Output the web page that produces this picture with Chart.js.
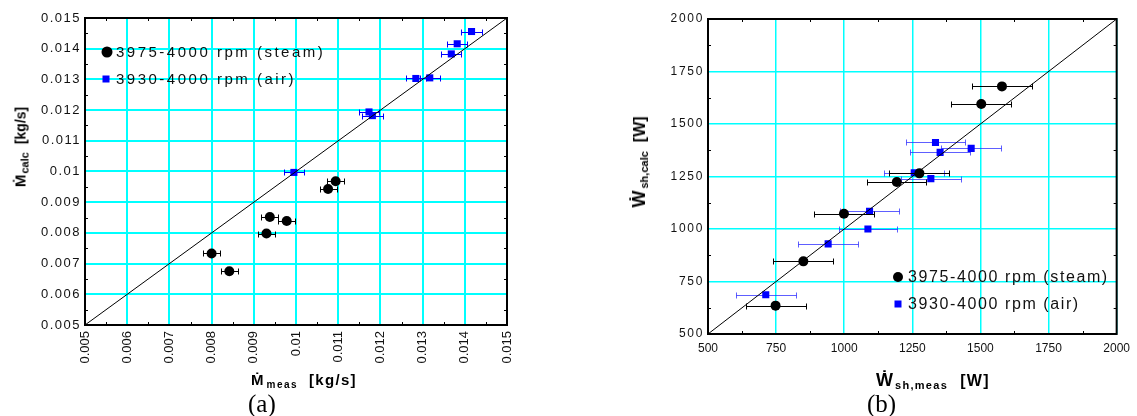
<!DOCTYPE html>
<html><head><meta charset="utf-8">
<script src="https://cdn.jsdelivr.net/npm/chart.js@4.4.1/dist/chart.umd.min.js"></script>
<style>
html,body{margin:0;padding:0;background:#fff;}
#wrap{position:relative;width:1137px;height:416px;overflow:hidden;background:#fff;font-family:"Liberation Sans",Arial,"DejaVu Sans",sans-serif;color:#000;}
canvas{position:absolute;top:0;}
#ca{left:0;}
#cb{left:568px;}
.t{position:absolute;white-space:nowrap;font-weight:bold;line-height:1;}
.sb{position:relative;top:3px;}
.yt{transform:translate(-50%,-50%) rotate(-90deg);}
.lab{position:absolute;font-family:"Liberation Serif","Times New Roman",serif;font-size:25px;line-height:1;}
</style></head><body>
<div id="wrap">
<canvas id="ca" width="560" height="416"></canvas>
<canvas id="cb" width="569" height="416"></canvas>

<div class="t" style="left:251px;top:372px;font-size:15px;">Ṁ<span class="sb" style="font-size:10px;letter-spacing:1.5px;margin-left:3px;">meas</span><span style="margin-left:11px;letter-spacing:1.3px;">[kg/s]</span></div>
<div class="t yt" style="left:20px;top:147px;font-size:15px;">Ṁ<span class="sb" style="font-size:11px;margin-left:1px;">calc</span><span style="font-size:14px;margin-left:8px;">[kg/s]</span></div>

<div class="t" style="left:876px;top:371px;font-size:18px;">Ẇ<span class="sb" style="font-size:11px;letter-spacing:1.3px;margin-left:2px;">sh,meas</span><span style="font-size:16px;letter-spacing:1.4px;margin-left:12px;">[W]</span></div>
<div class="t yt" style="left:639px;top:162px;font-size:18px;">Ẇ<span class="sb" style="font-size:11px;margin-left:2px;">sh,calc</span><span style="font-size:16px;margin-left:9px;">[W]</span></div>

<div class="lab" style="left:248px;top:391px;">(a)</div>
<div class="lab" style="left:867px;top:391px;">(b)</div>
</div>
<script>
// ---------------- data : chart (a) mass flow ----------------
const seriesNames = ['3975-4000 rpm (steam)', '3930-4000 rpm (air)'];

const aSteamX   = [0.00938, 0.00978, 0.00930, 0.00800, 0.00842, 0.01094, 0.01076];
const aSteamY   = [0.00852, 0.00839, 0.00798, 0.00733, 0.00675, 0.00968, 0.00943];
const aSteamErr = [0.0002, 0.0002, 0.0002, 0.0002, 0.0002, 0.0002, 0.0002];

const aAirX   = [0.01416, 0.01382, 0.01368, 0.01284, 0.01317, 0.01173, 0.01181, 0.00995];
const aAirY   = [0.01456, 0.01416, 0.01383, 0.01303, 0.01305, 0.01194, 0.01182, 0.00997];
const aAirErr = [0.00024, 0.00024, 0.00024, 0.00024, 0.00024, 0.00024, 0.00024, 0.00024];

const aTicks      = [0.005, 0.006, 0.007, 0.008, 0.009, 0.010, 0.011, 0.012, 0.013, 0.014, 0.015];
const aTickLabels = ['0.005','0.006','0.007','0.008','0.009','0.01','0.011','0.012','0.013','0.014','0.015'];
const aLine       = [0.005, 0.015];

// ---------------- data : chart (b) shaft power ----------------
const bSteamX   = [1579, 1503, 1276, 1193, 999, 850, 748];
const bSteamY   = [1679, 1595, 1265, 1224, 1073, 846, 635];
const bSteamErr = [110, 110, 110, 108, 110, 110, 110];

const bAirX   = [1335, 1466, 1352, 1257, 1318, 1093, 1087, 941, 712];
const bAirY   = [1412, 1384, 1365, 1268, 1240, 1084, 1000, 929, 687];
const bAirErr = [110, 110, 110, 110, 110, 107, 107, 110, 110];

const bTicks      = [500, 750, 1000, 1250, 1500, 1750, 2000];
const bTickLabels = ['500','750','1000','1250','1500','1750','2000'];
const bLine       = [500, 2000];

// ---------------- helpers ----------------
const FONT = '"Liberation Sans", Arial, sans-serif';
function pts(xs, ys){ return xs.map((x, i) => ({x: x, y: ys[i]})); }
function mids(t){ const r = []; for (let i = 0; i < t.length - 1; i++) r.push((t[i] + t[i+1]) / 2); return r; }

function spaced(scale, sp){
  if (scale.__sp) return; scale.__sp = true;
  const orig = scale.drawLabels;
  scale.drawLabels = function(area){
    const c = this.ctx; c.save(); c.letterSpacing = sp; orig.call(this, area); c.restore();
  };
}

function scaleCfg(axis, ticks, labels, o){
  return {
    type: 'linear', min: ticks[0], max: ticks[ticks.length - 1],
    afterBuildTicks: s => { s.ticks = ticks.map(v => ({value: v})); },
    afterFit: s => { if (axis === 'y') s.width = o.size; else s.height = o.size; if (o.sp) spaced(s, o.sp); },
    ticks: {
      autoSkip: false, padding: o.pad, color: '#111',
      font: {family: FONT, size: o.fs},
      minRotation: o.rot || 0, maxRotation: o.rot || 0,
      callback: (v, i) => labels[i]
    },
    grid: {color: '#00ffff', lineWidth: o.glw, drawTicks: false},
    border: {display: false}
  };
}

const errPlugin = {
  id: 'errbars',
  beforeDatasetDraw(chart, args){
    const ds = chart.data.datasets[args.index];
    if (!ds.xErr) return;
    const xs = chart.scales.x, ys = chart.scales.y, ctx = chart.ctx;
    ctx.save();
    ctx.strokeStyle = ds.errColor; ctx.lineWidth = 1;
    ds.data.forEach((p, i) => {
      const e = ds.xErr[i];
      const x0 = Math.round(xs.getPixelForValue(p.x - e)) + 0.5;
      const x1 = Math.round(xs.getPixelForValue(p.x + e)) + 0.5;
      const y = Math.round(ys.getPixelForValue(p.y)) + 0.5;
      ctx.beginPath();
      ctx.moveTo(x0, y); ctx.lineTo(x1, y);
      ctx.moveTo(x0, y - 3); ctx.lineTo(x0, y + 3);
      ctx.moveTo(x1, y - 3); ctx.lineTo(x1, y + 3);
      ctx.stroke();
    });
    ctx.restore();
  }
};

function framePlugin(o){
  return {
    id: 'frame',
    afterDraw(chart){
      const {left, right, top, bottom} = chart.chartArea, ctx = chart.ctx;
      ctx.save();
      ctx.strokeStyle = '#000'; ctx.lineWidth = 1;
      ctx.beginPath();
      o.minorX.forEach(v => {
        const x = Math.round(chart.scales.x.getPixelForValue(v)) + 0.5;
        ctx.moveTo(x, bottom); ctx.lineTo(x, bottom - o.len);
        ctx.moveTo(x, top); ctx.lineTo(x, top + o.len);
      });
      o.minorY.forEach(v => {
        const y = Math.round(chart.scales.y.getPixelForValue(v)) + 0.5;
        ctx.moveTo(left, y); ctx.lineTo(left + o.len, y);
        ctx.moveTo(right, y); ctx.lineTo(right - o.len, y);
      });
      ctx.stroke();
      ctx.lineWidth = o.lw;
      ctx.strokeRect(left, top, right - left, bottom - top);
      ctx.restore();
    }
  };
}

function legendPlugin(o){
  return {
    id: 'lg',
    afterDraw(chart){
      const ctx = chart.ctx;
      ctx.save();
      ctx.font = o.font; ctx.letterSpacing = o.sp; ctx.textBaseline = 'middle'; ctx.textAlign = 'left';
      o.items.forEach(it => {
        const ds = chart.data.datasets[it.ds];
        ctx.fillStyle = ds.backgroundColor;
        if (ds.pointStyle === 'rect') {
          ctx.fillRect(it.mx - it.s / 2, it.y - it.s / 2, it.s, it.s);
        } else {
          ctx.beginPath(); ctx.arc(it.mx, it.y, it.s / 2, 0, Math.PI * 2); ctx.fill();
        }
        ctx.fillStyle = '#111';
        ctx.fillText(ds.label, o.tx, it.y + 1);
      });
      ctx.restore();
    }
  };
}

function datasets(line, sx, sy, se, ax, ay, ae, airErrColor){
  return [
    {label: 'y = x', data: line.map(v => ({x: v, y: v})), showLine: true, pointRadius: 0,
     borderColor: '#000', borderWidth: 1, fill: false},
    {label: seriesNames[0], data: pts(sx, sy), xErr: se, errColor: '#000',
     pointStyle: 'circle', pointRadius: 5, backgroundColor: '#000', borderColor: '#000', borderWidth: 0},
    {label: seriesNames[1], data: pts(ax, ay), xErr: ae, errColor: airErrColor,
     pointStyle: 'rect', pointRadius: 5, backgroundColor: '#0000ff', borderColor: '#0000ff', borderWidth: 0}
  ];
}

const common = {
  responsive: false, animation: false, events: [],
  plugins: {legend: {display: false}, tooltip: {enabled: false}}
};

// ---------------- chart (a) ----------------
new Chart(document.getElementById('ca'), {
  type: 'scatter',
  data: {datasets: datasets(aLine, aSteamX, aSteamY, aSteamErr, aAirX, aAirY, aAirErr, '#0000ff')},
  options: Object.assign({}, common, {
    layout: {padding: {left: 0, top: 18, right: 53, bottom: 0}},
    scales: {
      x: scaleCfg('x', aTicks, aTickLabels, {size: 91, pad: 6, fs: 13, rot: 90, glw: 2}),
      y: scaleCfg('y', aTicks, aTickLabels, {size: 85, pad: 4, fs: 13, glw: 2, sp: '1.5px'})
    }
  }),
  plugins: [errPlugin,
    framePlugin({lw: 2, len: 3, minorX: mids(aTicks), minorY: mids(aTicks)}),
    legendPlugin({font: '15px ' + FONT, sp: '2.5px', tx: 116,
      items: [{ds: 1, mx: 107, y: 52, s: 11}, {ds: 2, mx: 106, y: 79, s: 7}]})]
});

// ---------------- chart (b) ----------------
new Chart(document.getElementById('cb'), {
  type: 'scatter',
  data: {datasets: datasets(bLine, bSteamX, bSteamY, bSteamErr, bAirX, bAirY, bAirErr, 'rgba(40,40,255,0.75)')},
  options: Object.assign({}, common, {
    layout: {padding: {left: 0, top: 19, right: 17, bottom: 0}},
    scales: {
      x: scaleCfg('x', bTicks, bTickLabels, {size: 82, pad: 7, fs: 12, glw: 1.5}),
      y: scaleCfg('y', bTicks, bTickLabels, {size: 140, pad: 4, fs: 12, glw: 1.5, sp: '1.7px'})
    }
  }),
  plugins: [errPlugin,
    framePlugin({lw: 2, len: 3, minorX: mids(bTicks), minorY: mids(bTicks)}),
    legendPlugin({font: '16px ' + FONT, sp: '1.6px', tx: 340,
      items: [{ds: 1, mx: 330, y: 277, s: 10}, {ds: 2, mx: 330, y: 304, s: 7}]})]
});
</script>
</body></html>
